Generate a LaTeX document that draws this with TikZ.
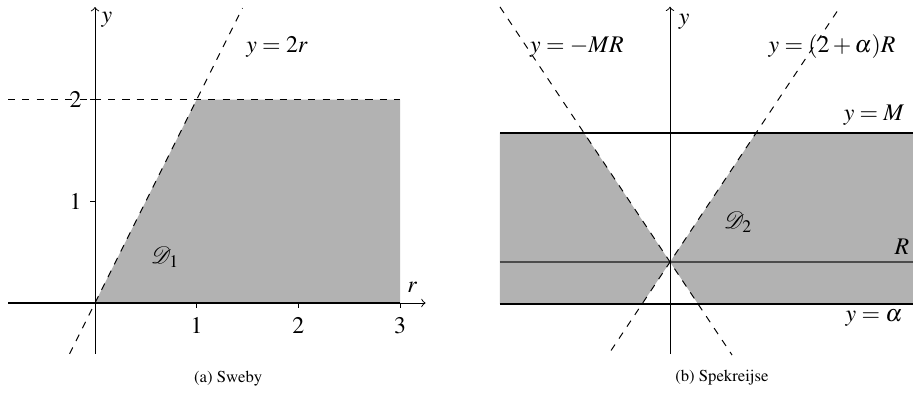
\documentclass[tikz,border=0pt]{standalone}
\usepackage[T1]{fontenc}
\usepackage{mathptmx}

\tikzset{LimAxis/.style={line width=.4pt,->},
         LimEdge/.style={line width=.8pt},
         LimDash/.style={line width=.4pt,dash pattern=on 3pt off 3pt},
         LimFill/.style={fill=black!30},
         LimMid/.style={line width=.5pt,draw=black!70},
         LimCaption/.style={font=\scriptsize}}

\begin{document}
\begin{tikzpicture}[x=1.5cm,y=1.5cm,>=to]
  \useasboundingbox (-0.934,-0.905) rectangle (8.043,2.979);
  % (a) Sweby: TVD region bounded by y = 2r and y = 2
  \fill[LimFill] (0,0) -- (1,2) -- (3,2) -- (3,0) -- cycle;
  \foreach \x in {1,2,3} {
    \draw (\x,0) -- (\x,-.05);
    \node (swX\x) at (\x,-.226) {$\x$};
  }
  \foreach \y in {1,2} {
    \draw (0,\y) -- (-.05,\y);
    \node (swY\y) at (-.19,\y) {$\y$};
  }
  \draw[LimDash] (-.855,2) -- (3,2);
  \draw[LimDash] (-.25,-.5) -- (1.45,2.9);
  \draw[LimEdge] (-.855,0) -- (3,0);
  \draw[LimAxis] (-.855,0) -- (3.25,0);
  \draw[LimAxis] (0,-.5) -- (0,2.91);
  \node (swR) at (3.12,.15) {$r$};
  \node (swY) at (.118,2.78) {$y$};
  \node (swLine) at (1.79,2.52) {$y = 2r$};
  \node (swD) at (.69,.45) {$\mathcal{D}_1$};
  \node[LimCaption] (swCap) at (1.31,-.74) {(a) Sweby};
  % (b) Spekreijse: region between y = alpha and y = M
  \begin{scope}[shift={(5.654,.403)}]
    \fill[LimFill] (-1.672,-.413) -- (-1.672,1.268) -- (-.845,1.268) -- (0,0)
      -- (.845,1.268) -- (2.39,1.268) -- (2.39,-.413) -- (.275,-.413) -- (0,0)
      -- (-.275,-.413) -- cycle;
    \draw[LimMid] (-1.672,0) -- (2.39,0);
    \draw[LimEdge] (-1.672,1.268) -- (2.39,1.268);
    \draw[LimEdge] (-1.672,-.413) -- (2.39,-.413);
    \draw[LimDash] (-1.672,2.508) -- (.61,-.915);
    \draw[LimDash] (-.58,-.87) -- (1.642,2.463);
    \draw[LimAxis] (0,-.905) -- (0,2.51);
    \node (spY) at (.138,2.36) {$y$};
    \node (spMR) at (-.915,2.114) {$y = -MR$};
    \node (spAR) at (1.593,2.114) {$y = (2+\alpha)R$};
    \node (spM) at (2.006,1.445) {$y = M$};
    \node (spR) at (2.28,.148) {$R$};
    \node (spA) at (2.006,-.55) {$y = \alpha$};
    \node (spD) at (.67,.393) {$\mathcal{D}_2$};
    \node[LimCaption] (spCap) at (.51,-1.14) {(b) Spekreijse};
  \end{scope}
\end{tikzpicture}
\end{document}
